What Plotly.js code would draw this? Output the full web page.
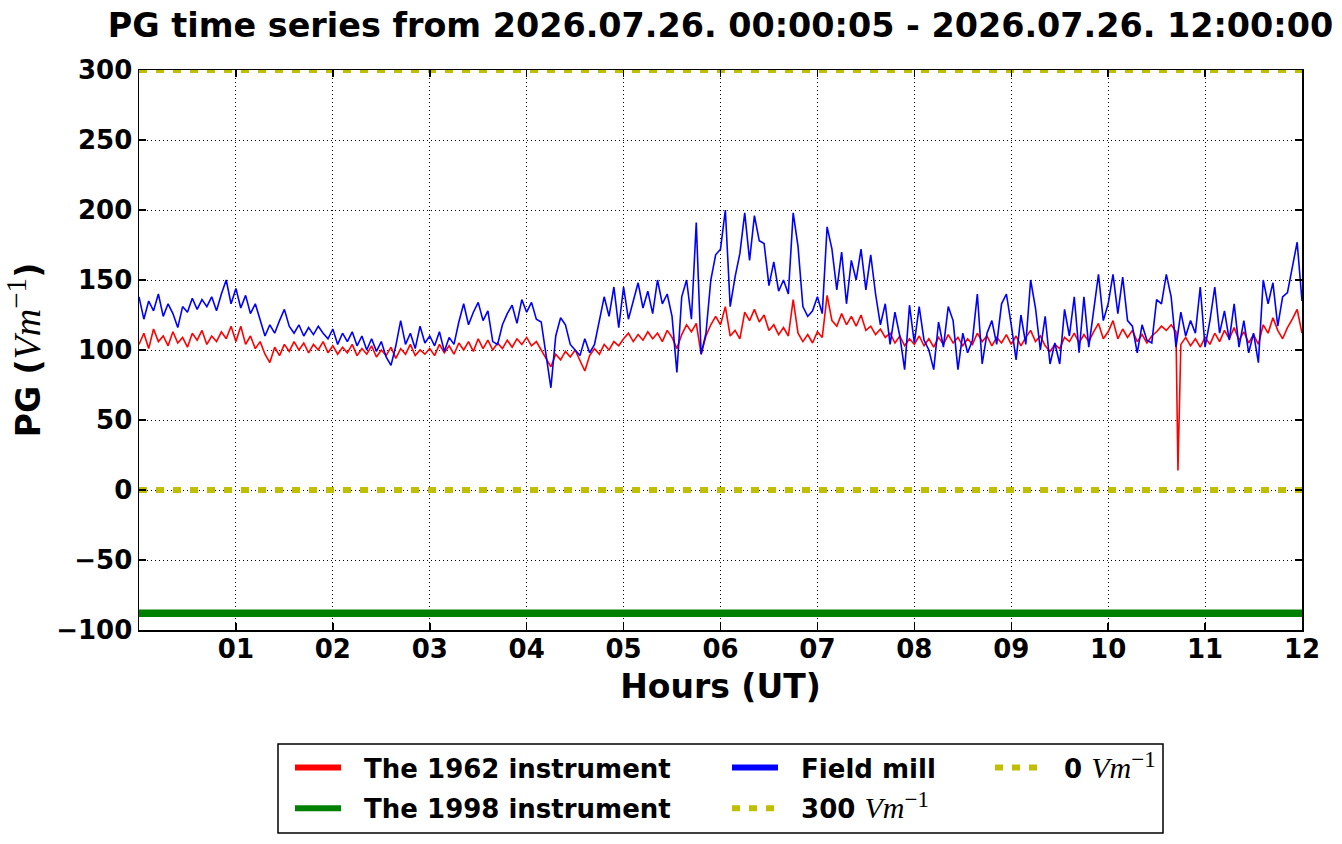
<!DOCTYPE html>
<html>
<head>
<meta charset="utf-8">
<script src="https://cdn.plot.ly/plotly-3.0.1.min.js"></script>
<style>
html, body {margin:0; padding:0; background:#fff;}
#chart {width:1342px; height:844px;}
</style>
</head>
<body>
<div id="chart"></div>
<script>
// Time axis: one sample every 3 minutes, 00:00 to 12:00 UT.
var startHour = 0;
var stepHours = 0.05;
var nSamples = 241;

// The 1962 instrument (red), V/m.
var instrument1962 = [
104,112,101,115,106,110,103,113,105,109,102,112,107,114,104,110,106,113,108,117,
106,117,104,110,101,106,97,91,102,96,104,99,106,100,105,98,104,100,106,98,
103,97,102,98,104,96,101,97,103,95,100,96,102,94,101,97,104,96,100,97,
101,96,104,98,103,97,105,100,106,99,108,101,107,100,105,101,107,102,108,104,
109,103,106,100,94,88,97,93,99,95,100,92,85,96,101,97,104,100,106,103,
108,112,106,111,107,113,108,112,106,114,109,101,111,118,113,119,97,110,118,124,
118,131,110,114,108,127,121,129,120,125,114,118,111,116,110,136,112,106,111,105,
113,109,139,121,117,126,118,124,117,125,114,117,111,115,109,112,105,110,103,108,
104,110,103,108,102,109,104,111,105,109,103,108,104,112,106,110,103,109,105,111,
104,110,103,109,114,106,110,103,99,104,101,109,106,112,105,111,106,113,119,108,
113,121,108,115,109,114,106,111,105,110,113,117,114,118,113,104,109,103,108,102,
109,104,112,106,114,108,116,107,113,105,111,104,118,112,123,114,108,116,122,129,
112];
// single drop-out of the 1962 instrument
var spikeHours = [10.72];
var spikeValues = [14];

// Field mill (blue)
var fieldMill = [
138,122,135,128,140,124,133,126,116,131,127,137,129,136,131,138,128,140,150,133,
144,130,139,126,133,121,110,118,112,121,129,117,112,118,110,116,111,117,112,108,
115,104,112,106,113,103,110,100,108,99,106,95,89,103,121,104,112,101,117,105,
110,103,113,99,109,104,120,133,118,127,134,121,128,106,104,118,126,132,119,136,
127,134,122,120,98,73,110,123,118,104,100,96,108,98,104,121,138,124,145,116,
145,122,136,148,130,142,126,150,133,140,124,84,138,150,122,191,97,112,150,168,
172,200,131,152,169,198,164,196,178,176,146,163,142,150,140,198,174,131,124,128,
138,126,188,172,143,170,133,164,150,172,143,168,140,118,133,104,127,110,86,132,
105,131,107,100,86,120,102,131,121,86,112,98,107,140,90,112,121,104,133,140,
118,93,125,104,150,130,100,124,90,105,90,129,110,138,98,138,102,128,154,121,
133,154,126,152,121,117,98,118,107,105,136,133,154,138,102,127,110,121,112,145,
102,121,145,112,128,107,133,102,121,98,112,91,150,133,148,117,138,141,160,177,
135];

// The 1998 instrument (green) and the reference levels
var instrument1998Hours = [0, 12];
var instrument1998 = [-88, -88];
var refHours = [0, 12];
var ref300 = [300, 300];
var ref0 = [0, 0];

var xTickVals = [1,2,3,4,5,6,7,8,9,10,11,12];
var xTickText = ['01','02','03','04','05','06','07','08','09','10','11','12'];
var yTickVals = [-100,-50,0,50,100,150,200,250,300];

var hours = [];
for (var i = 0; i < nSamples; i++) { hours.push(+(startHour + i * stepHours).toFixed(4)); }

// merge the drop-out into the red series
var redPts = hours.map(function(h, i){ return [h, instrument1962[i]]; });
spikeHours.forEach(function(h, i){ redPts.push([h, spikeValues[i]]); });
redPts.sort(function(a, b){ return a[0] - b[0]; });

// math-style unit V m^-1
function unit(size) {
return "<span style='font-family:Liberation Serif;font-weight:normal;font-style:italic;font-size:" + size + "px'>Vm</span>" +
 "<sup><span style='font-family:Liberation Serif;font-weight:normal;font-size:" + Math.round(size*0.75) + "px'>−1</span></sup>";
}
var pad = '\u00a0\u00a0';

var RED = '#ff0000', GREEN = '#008000', BLUE = '#0000ff', YEL = '#bfbf00';
var DOTS = '8px,9px';

var traces = [
{x: redPts.map(function(p){return p[0];}), y: redPts.map(function(p){return p[1];}),
 type: 'scatter', mode: 'lines', line: {color: RED, width: 1.6}, showlegend: false},
{x: instrument1998Hours, y: instrument1998, type: 'scatter', mode: 'lines',
 line: {color: GREEN, width: 7.5}, showlegend: false},
{x: hours, y: fieldMill, type: 'scatter', mode: 'lines',
 line: {color: BLUE, width: 1.6}, showlegend: false},
{x: refHours, y: ref300, type: 'scatter', mode: 'lines',
 line: {color: YEL, width: 6, dash: DOTS}, showlegend: false},
{x: refHours, y: ref0, type: 'scatter', mode: 'lines',
 line: {color: YEL, width: 6, dash: DOTS}, showlegend: false}
];

// legend entries (thick handles, as in the original legend)
function handle(name, color, dash, legend, group) {
return {x: [null], y: [null], type: 'scatter', mode: 'lines', name: pad + name,
 line: {color: color, width: 6, dash: dash || 'solid'}, legend: legend,
 legendgroup: group, hoverinfo: 'skip'};
}
traces.push(handle('The 1962 instrument', RED, null, 'legend', 'a'));
traces.push(handle('The 1998 instrument', GREEN, null, 'legend', 'b'));
traces.push(handle('Field mill', BLUE, null, 'legend2', 'c'));
traces.push(handle('300 ' + unit(30), YEL, DOTS, 'legend2', 'd'));
traces.push(handle('0 ' + unit(30), YEL, DOTS, 'legend3', 'e'));

var tickFont = {family: 'DejaVu Sans', size: 26, color: '#000', weight: 'bold'};
var legendFont = {family: 'DejaVu Sans', size: 26, color: '#000', weight: 'bold'};

var axisCommon = {
showline: true, linecolor: '#000', linewidth: 1.5, mirror: 'ticks',
ticks: 'inside', ticklen: 7, tickwidth: 1.5, tickcolor: '#000',
showgrid: true, gridcolor: '#000', gridwidth: 1, griddash: '1px,3px',
zeroline: false, tickfont: tickFont
};

function legendAt(px) {
return {x: (px-139)/1163, y: (630-744)/560, xanchor: 'left', yanchor: 'top',
 font: legendFont, bgcolor: 'rgba(0,0,0,0)', borderwidth: 0, itemwidth: 46,
 tracegroupgap: 4};
}

var layout = {
width: 1342, height: 844,
margin: {l: 139, r: 40, t: 70, b: 214},
paper_bgcolor: '#fff', plot_bgcolor: '#fff',
font: {family: 'DejaVu Sans', color: '#000'},
title: {
 text: 'PG time series from 2026.07.26. 00:00:05 - 2026.07.26. 12:00:00',
 font: {family: 'DejaVu Sans', size: 33.4, weight: 'bold', color: '#000'},
 xref: 'paper', x: 0.5, xanchor: 'center',
 yref: 'container', y: 1 - 25/844, yanchor: 'middle'
},
xaxis: Object.assign({}, axisCommon, {
 range: [0, 12], tickvals: xTickVals, ticktext: xTickText, ticklabelstandoff: -5,
 title: {text: 'Hours (UT)', standoff: 12,
  font: {family: 'DejaVu Sans', size: 33, weight: 'bold', color: '#000'}}
}),
yaxis: Object.assign({}, axisCommon, {
 range: [-100, 300], tickvals: yTickVals,
 title: {text: 'PG (' + unit(38) + ')', standoff: 8,
  font: {family: 'DejaVu Sans', size: 33, weight: 'bold', color: '#000'}}
}),
showlegend: true,
legend: legendAt(290),
legend2: legendAt(727),
legend3: legendAt(990),
shapes: [{
 type: 'rect', xref: 'paper', yref: 'paper', layer: 'above',
 x0: (278-139)/1163, x1: (1163-139)/1163, y0: (630-833)/560, y1: (630-744)/560,
 line: {color: '#000', width: 1.5}, fillcolor: 'rgba(0,0,0,0)'
}]
};

Plotly.newPlot('chart', traces, layout, {displayModeBar: false, staticPlot: true});
</script>
</body>
</html>
